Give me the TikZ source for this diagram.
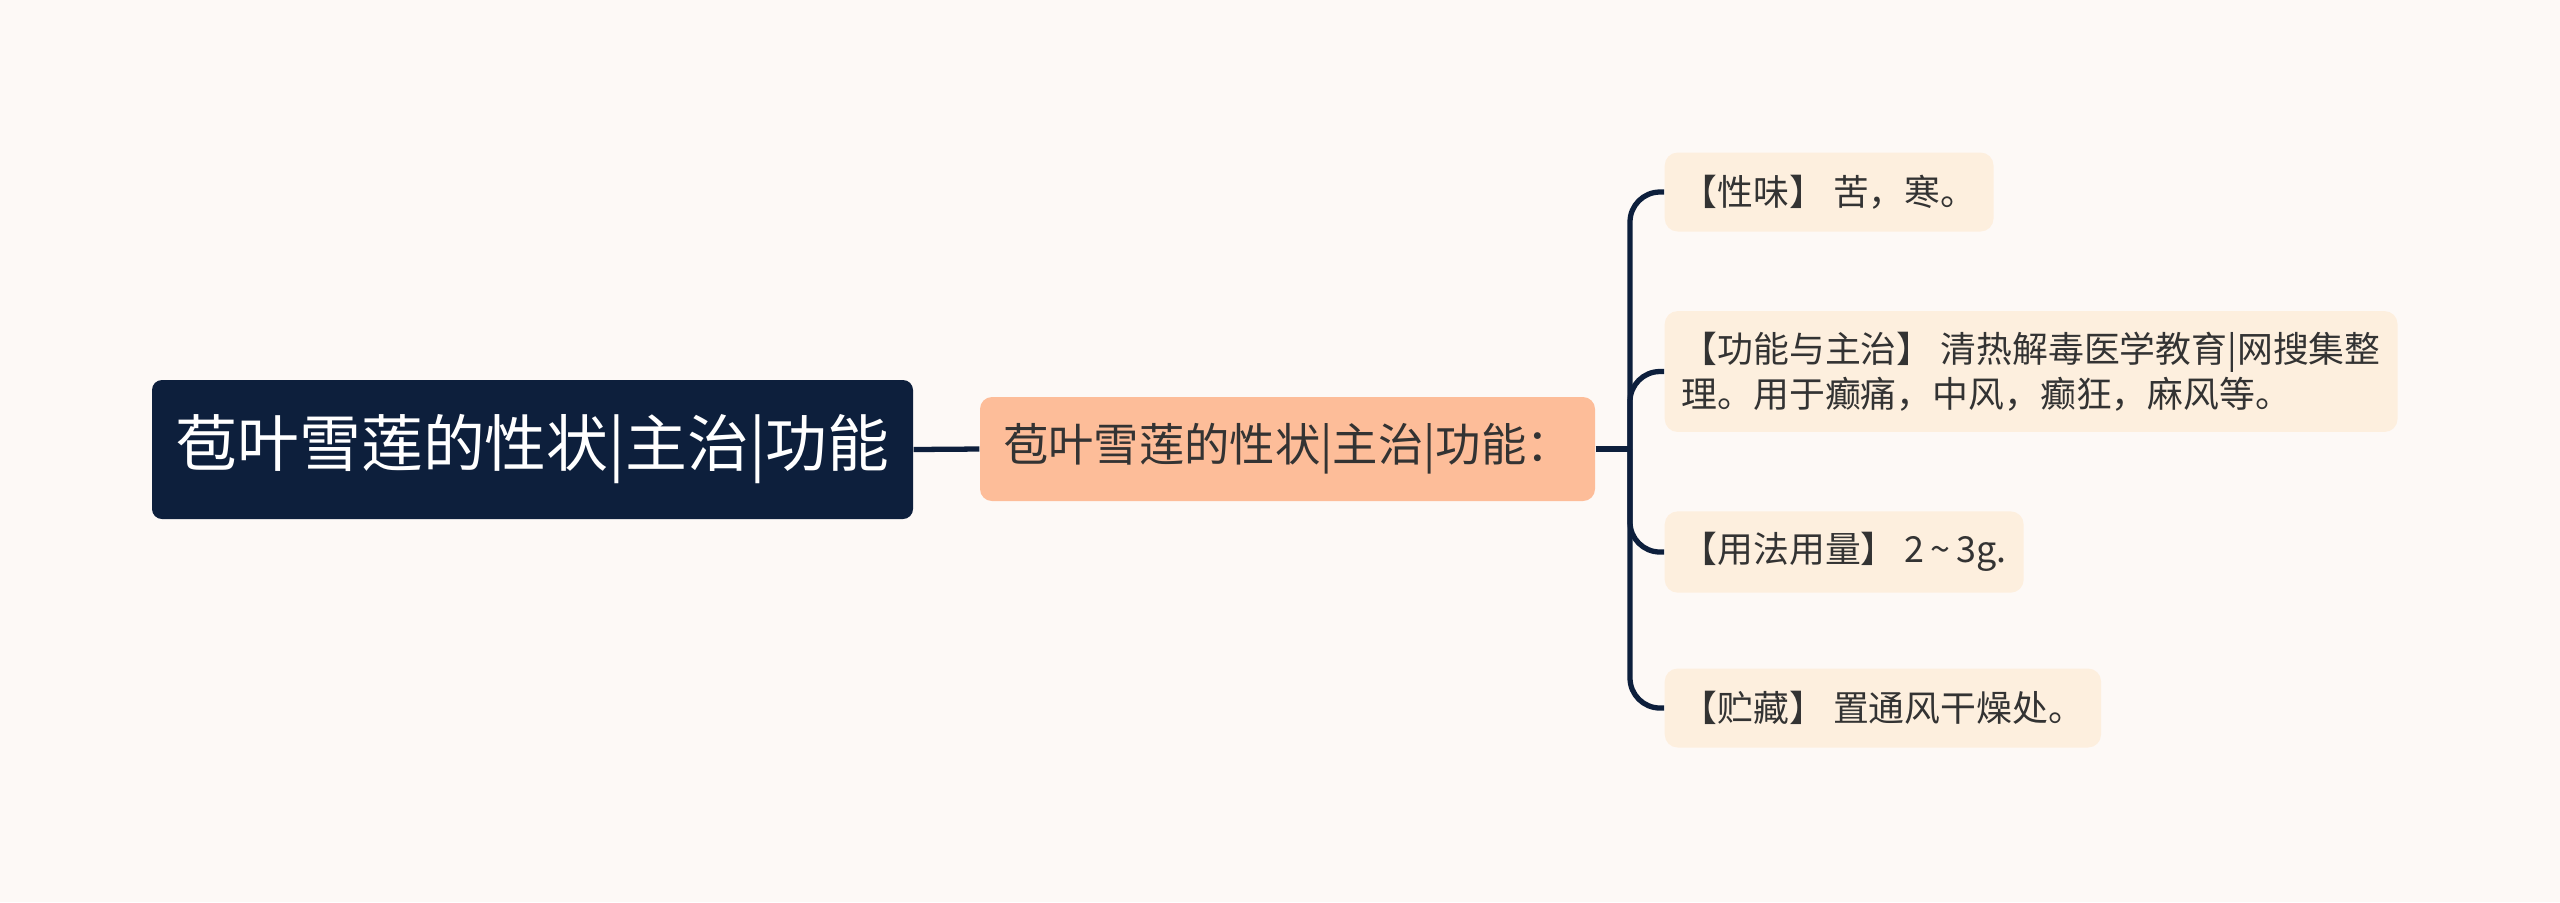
\documentclass[tikz,border=0pt]{standalone}
\usepackage{fontspec}
\setmainfont{Noto Sans CJK SC}
\usetikzlibrary{positioning}
\definecolor{bgcream}{RGB}{253,249,246}
\definecolor{rootnavy}{RGB}{13,31,60}
\definecolor{midpeach}{RGB}{253,189,153}
\definecolor{leafcream}{RGB}{253,239,222}
\definecolor{textdark}{RGB}{51,51,51}

\begin{document}
\begin{tikzpicture}[
    rootbox/.style={
        fill=rootnavy, text=white, rounded corners=0.1cm,
        font=\fontsize{17.6}{20}\selectfont,
        minimum width=7.61cm, minimum height=1.39cm, inner sep=0pt
    },
    midbox/.style={
        fill=midpeach, text=textdark, rounded corners=0.12cm,
        font=\fontsize{12.9}{15}\selectfont,
        minimum width=6.15cm, minimum height=1.04cm, inner sep=0pt
    },
    leafbox/.style={
        fill=leafcream, text=textdark, rounded corners=0.13cm,
        font=\fontsize{10.2}{12.7}\selectfont, anchor=west, align=left,
        inner xsep=0.17cm, inner ysep=0.21cm, minimum height=0.79cm
    },
    link/.style={
        draw=rootnavy, line width=1.5pt
    }
]

% =================== Canvas ===================
\fill[bgcream] (0,0) rectangle (25.6,-9.02);
\useasboundingbox (0,0) rectangle (25.6,-9.02);

% =================== Root and middle ===================
\node[rootbox] (root) at (5.325,-4.495) {苞叶雪莲的性状|主治|功能};
\node[midbox] (mid) at (12.875,-4.49) {苞叶雪莲的性状|主治|功能：};

\draw[link] (root.east) -- (mid.west);

% =================== Leaves ===================
\node[leafbox] (taste) at (16.64,-1.92) {【性味】 苦，寒。};
\node[leafbox] (usage) at (16.64,-3.715) {【功能与主治】 清热解毒医学教育|网搜集整\\理。用于癫痛，中风，癫狂，麻风等。};
\node[leafbox] (dose) at (16.64,-5.52) {【用法用量】 2\,\textasciitilde\,3g.};
\node[leafbox] (store) at (16.64,-7.08) {【贮藏】 置通风干燥处。};

% Hub and branches
\coordinate (hub) at (16.30,-4.49);
\draw[link] (mid.east) -- (hub);
\foreach \leaf in {taste,usage,dose,store}
    \draw[link, rounded corners=0.3cm] (hub) |- (\leaf.west);

\end{tikzpicture}
\end{document}
